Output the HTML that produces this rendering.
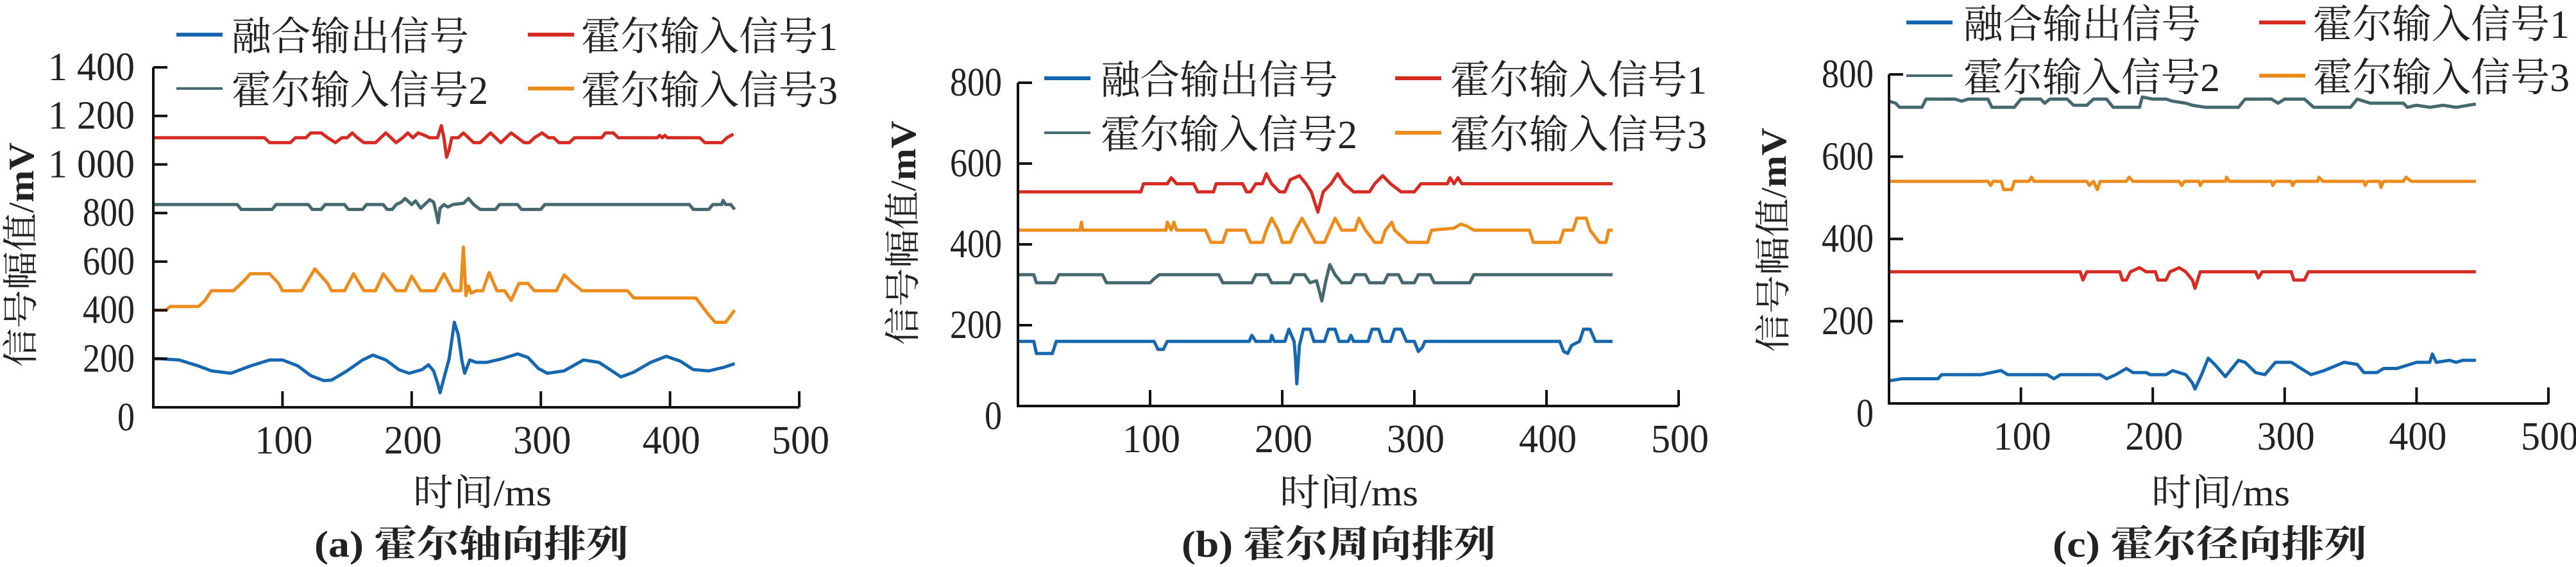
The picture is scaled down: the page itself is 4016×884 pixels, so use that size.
<!DOCTYPE html>
<html><head><meta charset="utf-8"><style>
html,body{margin:0;padding:0;background:#fff;}
svg{display:block;}
text{font-family:"Liberation Serif","Noto Serif CJK SC","Noto Sans CJK SC",serif;fill:#222;}
</style></head><body>
<svg id="fig" width="4016" height="884" viewBox="0 0 4016 884" xmlns="http://www.w3.org/2000/svg"></svg>
<script>
// ---------- data ----------
const xTicks = [100, 200, 300, 400, 500];
const yTicksA = [0, 200, 400, 600, 800, 1000, 1200, 1400];
const yTickLabelsA = ["0","200","400","600","800","1 000","1 200","1 400"];
const yTicksBC = [0, 200, 400, 600, 800];
const seriesNames = ["融合输出信号","霍尔输入信号1","霍尔输入信号2","霍尔输入信号3"];
const seriesColors = ["#1667ae","#d62b22","#46686f","#ec8c1c"];

// panel a
const aFused = [[0,200],[5,200],[20,195],[35,170],[45,150],[60,140],[75,170],[90,195],[100,195],[112,170],[122,130],[132,110],[138,112],[150,150],[162,195],[170,215],[180,195],[190,155],[198,140],[208,155],[213,175],[217,150],[220,100],[222,60],[225,120],[229,200],[233,350],[236,300],[239,190],[241,140],[245,195],[250,185],[258,185],[270,200],[282,220],[290,205],[298,160],[305,140],[318,150],[333,195],[345,185],[355,150],[362,125],[372,145],[385,185],[397,210],[408,190],[418,155],[430,150],[442,165],[450,180]];
const aHall1 = [[0,1110],[86,1110],[90,1090],[106,1090],[110,1110],[118,1110],[122,1130],[130,1130],[135,1110],[141,1090],[146,1110],[150,1110],[154,1130],[158,1110],[163,1090],[172,1090],[176,1110],[180,1130],[184,1110],[188,1090],[193,1110],[197,1130],[201,1110],[205,1130],[210,1120],[214,1110],[220,1110],[223,1160],[225,1110],[227,1030],[229,1060],[231,1110],[236,1110],[240,1130],[244,1110],[248,1090],[253,1090],[257,1110],[261,1130],[265,1110],[269,1090],[273,1110],[277,1130],[282,1110],[287,1090],[291,1090],[295,1110],[301,1130],[306,1110],[310,1110],[314,1090],[322,1090],[326,1110],[347,1110],[350,1130],[356,1130],[360,1110],[390,1110],[392,1120],[394,1110],[396,1120],[398,1110],[423,1110],[427,1090],[440,1090],[444,1110],[449,1125]];
const aHall2 = [[0,835],[65,835],[68,815],[92,815],[95,835],[120,835],[123,815],[130,815],[133,835],[148,835],[151,815],[162,815],[165,835],[178,835],[181,815],[185,815],[188,835],[192,845],[195,860],[200,835],[203,850],[207,820],[210,835],[214,855],[217,845],[219,800],[220.5,760],[222,820],[225,835],[228,825],[232,835],[240,840],[244,860],[248,835],[253,815],[265,815],[268,835],[282,835],[285,815],[300,815],[303,835],[415,835],[418,815],[430,815],[433,835],[440,835],[441,852],[443,835],[447,835],[450,815]];
const aHall3 = [[0,400],[10,400],[13,415],[35,415],[40,440],[45,480],[62,480],[70,520],[75,550],[90,550],[97,510],[100,480],[115,480],[125,570],[135,510],[138,480],[148,480],[155,550],[163,480],[172,480],[178,550],[188,480],[195,480],[200,540],[207,480],[218,480],[225,550],[232,480],[238,480],[240,660],[242,460],[244,500],[246,470],[250,480],[255,480],[260,555],[266,480],[272,480],[277,440],[283,510],[290,510],[295,480],[312,480],[318,545],[325,510],[332,480],[367,480],[372,450],[420,450],[430,380],[435,350],[443,350],[450,400]];

// panel b
const bFused = [[0,160],[12,160],[14,130],[26,130],[29,160],[103,160],[106,140],[110,140],[113,160],[175,160],[177,175],[180,160],[191,160],[192,175],[194,160],[202,160],[205,190],[209,160],[210,120],[211,55],[213,150],[216,190],[221,190],[224,160],[232,160],[235,190],[240,190],[243,160],[250,160],[252,175],[254,160],[265,160],[268,190],[273,190],[276,160],[282,160],[285,190],[290,190],[294,160],[300,160],[303,135],[306,145],[308,160],[410,160],[413,135],[416,130],[419,150],[425,160],[428,190],[433,190],[437,160],[450,160]];
const bHall1 = [[0,530],[93,530],[95,550],[113,550],[116,565],[120,550],[133,550],[136,530],[148,530],[150,550],[170,550],[173,530],[176,530],[180,550],[185,550],[188,575],[192,550],[198,530],[202,530],[206,560],[213,570],[218,550],[222,530],[227,480],[231,530],[237,550],[242,575],[247,550],[254,530],[266,530],[270,550],[276,570],[282,550],[290,530],[300,530],[305,550],[325,550],[327,565],[330,550],[333,565],[336,550],[450,550]];
const bHall2 = [[0,325],[12,325],[14,305],[28,305],[31,325],[64,325],[67,305],[100,305],[103,315],[107,325],[152,325],[155,305],[177,305],[180,325],[189,325],[192,305],[206,305],[209,325],[217,325],[221,305],[226,310],[230,260],[233,310],[236,350],[240,325],[245,305],[252,305],[255,325],[263,325],[266,305],[277,305],[280,325],[288,325],[291,305],[300,305],[303,325],[312,325],[315,305],[342,305],[345,325],[450,325]];
const bHall3 = [[0,435],[47,435],[48,455],[49,435],[112,435],[113,455],[116,435],[118,455],[120,435],[142,435],[146,405],[155,405],[158,435],[172,435],[176,405],[185,405],[188,435],[192,465],[197,435],[200,405],[206,405],[210,435],[215,465],[220,435],[225,405],[232,405],[236,435],[240,465],[245,435],[255,435],[258,465],[263,435],[270,405],[275,405],[278,435],[283,455],[285,435],[295,405],[310,405],[313,435],[330,440],[335,450],[340,445],[345,435],[387,435],[390,405],[410,405],[413,435],[420,435],[423,465],[430,465],[433,435],[440,405],[445,405],[447,435],[450,435]];

// panel c
const cFused = [[0,55],[10,60],[37,60],[40,70],[70,70],[85,80],[90,70],[120,70],[125,60],[130,70],[160,70],[165,60],[172,70],[180,85],[185,75],[195,75],[198,70],[210,70],[215,80],[225,70],[230,50],[232,35],[237,70],[242,110],[247,95],[255,65],[265,105],[270,100],[278,75],[285,70],[293,100],[305,100],[315,80],[320,70],[330,80],[345,100],[355,95],[360,75],[370,75],[375,85],[385,85],[395,95],[400,100],[410,100],[412,120],[415,100],[425,105],[430,100],[435,105],[445,105]];
const cHall1 = [[0,320],[145,320],[147,300],[150,320],[175,320],[177,300],[180,300],[183,320],[190,330],[195,320],[202,320],[204,300],[210,300],[213,320],[220,330],[225,320],[230,300],[232,280],[236,320],[278,320],[280,305],[283,320],[305,320],[307,300],[315,300],[318,320],[445,320]];
const cHall2 = [[0,735],[5,730],[8,720],[25,720],[28,740],[50,740],[55,735],[60,740],[75,740],[78,720],[95,720],[100,740],[115,740],[118,730],[122,740],[135,740],[140,725],[150,725],[155,740],[165,740],[170,720],[190,720],[192,745],[200,740],[210,740],[215,735],[225,730],[230,725],[240,720],[265,720],[270,740],[290,740],[295,730],[300,740],[315,740],[322,720],[350,720],[355,740],[360,735],[365,730],[390,730],[393,720],[400,725],[410,720],[420,725],[430,720],[445,728]];
const cHall3 = [[0,540],[75,540],[77,530],[79,540],[85,540],[87,520],[93,520],[95,540],[106,540],[108,550],[110,540],[150,540],[152,530],[155,540],[158,520],[160,540],[180,540],[182,550],[185,540],[220,540],[222,530],[224,540],[235,540],[236,530],[238,540],[255,540],[256,550],[258,540],[290,540],[291,530],[293,540],[305,540],[306,530],[308,540],[325,540],[326,550],[329,540],[360,540],[361,530],[363,540],[372,540],[373,525],[375,540],[390,540],[392,550],[396,540],[445,540]];

// ---------- layout ----------
const NS = "http://www.w3.org/2000/svg";
const svg = document.getElementById('fig');
function mk(tag, attrs, parent) {
  const e = document.createElementNS(NS, tag);
  for (const k in attrs) e.setAttribute(k, attrs[k]);
  (parent || svg).appendChild(e);
  return e;
}
const panels = [
  {key:'a', x0:239, x500:1246, y0:635, yTop:105, yMax:1400, yTicks:yTicksA, yLabels:yTickLabelsA,
   series:[aFused,aHall1,aHall2,aHall3], labelRight:210, titleX:34, titleY:397,
   legY:[54,138], legLine:[275,823], legText:[361,906],
   xTitleX:752, capX:735, caption:"(a) 霍尔轴向排列"},
  {key:'b', x0:1587, x500:2617, y0:633, yTop:129, yMax:800, yTicks:yTicksBC, yLabels:null,
   series:[bFused,bHall1,bHall2,bHall3], labelRight:1562, titleX:1409, titleY:363,
   legY:[122,207], legLine:[1628,2175], legText:[1716,2261],
   xTitleX:2103, capX:2087, caption:"(b) 霍尔周向排列"},
  {key:'c', x0:2945, x500:3973, y0:629, yTop:116, yMax:800, yTicks:yTicksBC, yLabels:null,
   series:[cFused,cHall1,cHall2,cHall3], labelRight:2921, titleX:2766, titleY:374,
   legY:[35,118], legLine:[2972,3522], legText:[3061,3606],
   xTitleX:3462, capX:3445, caption:"(c) 霍尔径向排列"}
];

panels.forEach(p => {
  const g = mk('g', {});
  
  
  const xs = t => p.x0 + (p.x500 - p.x0) * t / 500;
  const ys = v => p.y0 - (p.y0 - p.yTop) * v / p.yMax;

  p.series.forEach((s, i) => {
    const d = s.map((pt, j) => (j ? 'L' : 'M') + xs(pt[0]).toFixed(1) + ' ' + ys(pt[1]).toFixed(1)).join(' ');
    const path = mk('path', {d:d, fill:'none', stroke:seriesColors[i], 'stroke-width':5, 'stroke-linejoin':'round'}, g);
    
    
  });

  const ax = mk('path', {d:`M${p.x0} ${ys(p.yMax)} V${p.y0} H${p.x500}`, fill:'none', stroke:'#111', 'stroke-width':4}, g);
  
  

  p.yTicks.forEach((v, i) => {
    if (v > 0) mk('line', {x1:p.x0, x2:p.x0+22, y1:ys(v), y2:ys(v), stroke:'#111', 'stroke-width':4}, g);
    const lbl = p.yLabels ? p.yLabels[i] : String(v);
    const yy = v === 0 ? p.y0 + 36 : ys(v) + 20;
    const t = mk('text', {x:p.labelRight, y:yy, 'text-anchor':'end', 'font-size':62, textLength: lbl.length * 27, lengthAdjust:'spacingAndGlyphs'}, g);
    
    
    t.textContent = lbl;
  });

  xTicks.forEach(v => {
    mk('line', {x1:xs(v), x2:xs(v), y1:p.y0, y2:p.y0-25, stroke:'#111', 'stroke-width':4}, g);
    const t = mk('text', {x:xs(v)+2, y:p.y0+72, 'text-anchor':'middle', 'font-size':62, textLength:90, lengthAdjust:'spacingAndGlyphs'}, g);
    
    
    t.textContent = String(v);
  });

  const yt = mk('text', {x:0, y:0, 'text-anchor':'middle', 'font-size':56, transform:`translate(${p.titleX+18},${p.titleY}) rotate(-90)`, textLength:350, lengthAdjust:'spacingAndGlyphs'}, g);
  
  
  yt.innerHTML = '信号幅值/<tspan font-weight="bold">mV</tspan>';
  const xt = mk('text', {x:p.xTitleX, y:788, 'text-anchor':'middle', 'font-size':58, textLength:216, lengthAdjust:'spacingAndGlyphs'}, g);
  
  
  xt.textContent = '时间/ms';
  const cap = mk('text', {x:p.capX, y:868, 'text-anchor':'middle', 'font-size':58, 'font-weight':'bold', textLength:490, lengthAdjust:'spacingAndGlyphs'}, g);
  
  
  cap.textContent = p.caption;

  const order = [[0,0,0],[1,0,1],[2,1,0],[3,1,1]];
  order.forEach(([si,row,col]) => {
    const lg = mk('g', {}, g);
    
    
    const y = p.legY[row];
    const lx = p.legLine[col];
    mk('line', {x1:lx, x2:lx+72, y1:y, y2:y, stroke:seriesColors[si], 'stroke-width':si===2?4:6}, lg);
    const t = mk('text', {x:p.legText[col], y:y+24, 'font-size':62, textLength: seriesNames[si].length===6 ? 370 : 400, lengthAdjust:'spacingAndGlyphs'}, lg);
    t.textContent = seriesNames[si];
  });
});
</script>
</body></html>
